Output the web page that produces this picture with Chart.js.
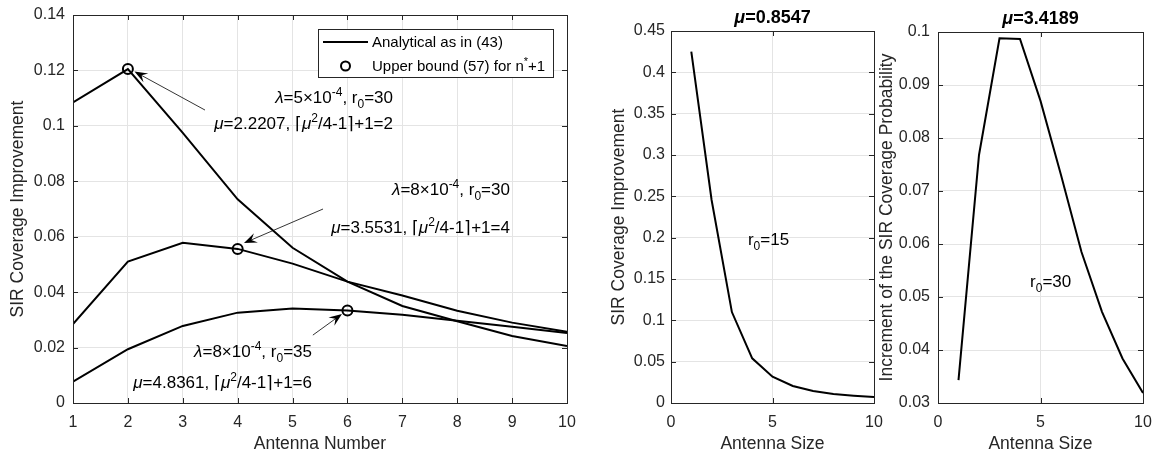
<!doctype html>
<html lang="en">
<head>
<meta charset="utf-8">
<title>SIR coverage improvement</title>
<script src="https://cdn.jsdelivr.net/npm/chart.js@4.4.1/dist/chart.umd.min.js"></script>
<style>
  body { margin: 0; background: #fff; width: 1153px; height: 453px; position: relative; overflow: hidden; }
  canvas { position: absolute; top: 0; }
</style>
</head>
<body>
<canvas id="left" width="590" height="453" style="left:0"></canvas>
<canvas id="mid" width="285" height="453" style="left:600px"></canvas>
<canvas id="right" width="283" height="453" style="left:870px"></canvas>
<script>
// ---- data ----
const antennaNumber = [1, 2, 3, 4, 5, 6, 7, 8, 9, 10];
const lam5r30 = [0.1085, 0.1205, 0.0975, 0.0735, 0.0560, 0.0438, 0.0350, 0.0295, 0.0242, 0.0206];
const lam8r30 = [0.0285, 0.0510, 0.0578, 0.0556, 0.0503, 0.0438, 0.0388, 0.0333, 0.0290, 0.0257];
const lam8r35 = [0.0077, 0.0194, 0.0278, 0.0326, 0.0341, 0.0334, 0.0318, 0.0297, 0.0275, 0.0253];
const boundX = [2, 4, 6];
const boundY = [0.1205, 0.0556, 0.0334];

const antennaSize = [1, 2, 3, 4, 5, 6, 7, 8, 9, 10];
const improveR15 = [0.425, 0.2456, 0.110, 0.054, 0.0318, 0.0206, 0.0145, 0.0110, 0.0089, 0.0073];
const incrementR30 = [0.0343, 0.0768, 0.0988, 0.0987, 0.0870, 0.0730, 0.0585, 0.0472, 0.0384, 0.0319];

const leftTexts = [
  { x: 6.83, y: 0.1082, s: '`λ`=5×10^{-4}, r_{0}=30' },
  { x: 6.83, y: 0.0990, s: '`μ`=2.2207, ⌈`μ`^{2}/4-1⌉+1=2' },
  { x: 8.96, y: 0.0750, s: '`λ`=8×10^{-4}, r_{0}=30' },
  { x: 8.96, y: 0.0612, s: '`μ`=3.5531, ⌈`μ`^{2}/4-1⌉+1=4' },
  { x: 5.354, y: 0.0167, s: '`λ`=8×10^{-4}, r_{0}=35' },
  { x: 5.354, y: 0.0054, s: '`μ`=4.8361, ⌈`μ`^{2}/4-1⌉+1=6' },
];
const leftArrows = [
  { from: [3.405, 0.1057], to: [2.12, 0.1196] },
  { from: [5.555, 0.0700], to: [4.115, 0.0577] },
  { from: [5.37, 0.0245], to: [5.90, 0.0321] },
];

const FONT = '"Liberation Sans", Arial, Helvetica, sans-serif';
const INK = '#262626';
const GRID = '#e4e4e4';

function parseRich(str) {
  const out = [];
  const re = /\^\{([^}]*)\}|_\{([^}]*)\}|`([^`]*)`|([^^_`]+)/g;
  let m;
  while ((m = re.exec(str))) {
    if (m[1] !== undefined) out.push({ t: m[1], sup: true });
    else if (m[2] !== undefined) out.push({ t: m[2], sub: true });
    else if (m[3] !== undefined) out.push({ t: m[3], it: true });
    else out.push({ t: m[4] });
  }
  return out;
}

function drawRich(ctx, str, x, y, align, size, bold) {
  const segs = parseRich(str);
  const fontFor = (s) => (s.it ? 'italic ' : '') + (bold ? 'bold ' : '') +
    Math.round((s.sup || s.sub) ? size * 0.72 : size) + 'px ' + FONT;
  let w = 0;
  for (const s of segs) { ctx.font = fontFor(s); w += ctx.measureText(s.t).width; }
  let cx = align === 'right' ? x - w : align === 'center' ? x - w / 2 : x;
  ctx.textBaseline = 'alphabetic';
  ctx.textAlign = 'left';
  for (const s of segs) {
    ctx.font = fontFor(s);
    const dy = s.sup ? -size * 0.42 : s.sub ? size * 0.32 : 0;
    ctx.fillText(s.t, cx, y + dy);
    cx += ctx.measureText(s.t).width;
  }
}

function arrow(ctx, x1, y1, x2, y2) {
  const ang = Math.atan2(y2 - y1, x2 - x1);
  ctx.beginPath();
  ctx.moveTo(x1, y1);
  ctx.lineTo(x2 - Math.cos(ang) * 6, y2 - Math.sin(ang) * 6);
  ctx.stroke();
  const L = 13, W = 5;
  const bx = x2 - Math.cos(ang) * L, by = y2 - Math.sin(ang) * L;
  const nx = -Math.sin(ang), ny = Math.cos(ang);
  ctx.beginPath();
  ctx.moveTo(x2, y2);
  ctx.lineTo(bx + nx * W, by + ny * W);
  ctx.lineTo(x2 - Math.cos(ang) * 8, y2 - Math.sin(ang) * 8);
  ctx.lineTo(bx - nx * W, by - ny * W);
  ctx.closePath();
  ctx.fill();
}

// box, inward ticks, annotations, legend, title
const decor = {
  id: 'decor',
  afterDraw(chart) {
    const { ctx, chartArea: a, scales } = chart;
    const o = chart.options.plugins.decor || {};
    ctx.save();
    ctx.strokeStyle = INK;
    ctx.fillStyle = INK;
    ctx.lineWidth = 1;
    ctx.strokeRect(Math.round(a.left) + 0.5, Math.round(a.top) + 0.5,
      Math.round(a.right - a.left), Math.round(a.bottom - a.top));
    const tl = 5;
    ctx.beginPath();
    for (const t of scales.x.ticks) {
      const px = Math.round(scales.x.getPixelForValue(t.value)) + 0.5;
      ctx.moveTo(px, a.bottom); ctx.lineTo(px, a.bottom - tl);
      ctx.moveTo(px, a.top); ctx.lineTo(px, a.top + tl);
    }
    for (const t of scales.y.ticks) {
      const py = Math.round(scales.y.getPixelForValue(t.value)) + 0.5;
      ctx.moveTo(a.left, py); ctx.lineTo(a.left + tl, py);
      ctx.moveTo(a.right, py); ctx.lineTo(a.right - tl, py);
    }
    ctx.stroke();

    ctx.fillStyle = '#000';
    ctx.strokeStyle = '#000';
    for (const t of (o.texts || [])) {
      drawRich(ctx, t.s, scales.x.getPixelForValue(t.x), scales.y.getPixelForValue(t.y),
        t.align || 'right', 16.5);
    }
    ctx.lineWidth = 0.8;
    for (const ar of (o.arrows || [])) {
      arrow(ctx, scales.x.getPixelForValue(ar.from[0]), scales.y.getPixelForValue(ar.from[1]),
        scales.x.getPixelForValue(ar.to[0]), scales.y.getPixelForValue(ar.to[1]));
    }
    if (o.title) {
      ctx.fillStyle = '#000';
      drawRich(ctx, o.title, (a.left + a.right) / 2, a.top - 8, 'center', 17.5, true);
    }
    if (o.legend) {
      const w = 235, h = 48;
      const lx = a.right - 14 - w, ly = a.top + 14;
      ctx.fillStyle = '#fff';
      ctx.fillRect(lx, ly, w, h);
      ctx.strokeStyle = INK;
      ctx.lineWidth = 1;
      ctx.strokeRect(lx + 0.5, ly + 0.5, w, h);
      ctx.strokeStyle = '#000';
      ctx.lineWidth = 2;
      ctx.beginPath();
      ctx.moveTo(lx + 5, ly + 13); ctx.lineTo(lx + 50, ly + 13);
      ctx.stroke();
      ctx.lineWidth = 2;
      ctx.beginPath();
      ctx.arc(lx + 27.5, ly + 37, 4.5, 0, Math.PI * 2);
      ctx.stroke();
      ctx.fillStyle = '#000';
      drawRich(ctx, 'Analytical as in (43)', lx + 54, ly + 18, 'left', 15);
      drawRich(ctx, 'Upper bound (57) for n^{*}+1', lx + 54, ly + 42, 'left', 15);
    }
    ctx.restore();
  },
};

function fmt(v) { return String(parseFloat(Number(v).toFixed(4))); }

function axes(x, y, dims) {
  return {
    x: {
      type: 'linear', min: x.min, max: x.max,
      ticks: { stepSize: x.step, color: INK, font: { family: FONT, size: 16 }, padding: 10, callback: fmt, maxRotation: 0 },
      grid: { color: GRID, drawTicks: false },
      border: { color: INK },
      title: { display: true, text: x.title, color: INK, font: { family: FONT, size: 17.5, lineHeight: 1 }, padding: { top: 0, bottom: 0 } },
      afterFit(s) { s.height = dims.xh; s.paddingLeft = 0; s.paddingRight = 0; },
    },
    y: {
      type: 'linear', min: y.min, max: y.max,
      ticks: { stepSize: y.step, color: INK, font: { family: FONT, size: 16 }, padding: dims.ypad, callback: fmt },
      grid: { color: GRID, drawTicks: false },
      border: { color: INK },
      title: { display: true, text: y.title, color: INK, font: { family: FONT, size: 17.5, lineHeight: 1.2 }, padding: { top: dims.tpad, bottom: 0 } },
      afterFit(s) { s.width = dims.yw; s.paddingTop = 0; s.paddingBottom = 0; },
    },
  };
}

function line(xs, ys) {
  return {
    type: 'line',
    data: xs.map((x, i) => ({ x, y: ys[i] })),
    borderColor: '#000', borderWidth: 2, pointRadius: 0, tension: 0, fill: false,
  };
}

const common = {
  responsive: false,
  animation: false,
  events: [],
};

new Chart(document.getElementById('left'), {
  type: 'line',
  data: {
    datasets: [
      line(antennaNumber, lam5r30),
      line(antennaNumber, lam8r30),
      line(antennaNumber, lam8r35),
      {
        type: 'scatter',
        data: boundX.map((x, i) => ({ x, y: boundY[i] })),
        pointRadius: 5, pointStyle: 'circle', borderColor: '#000', borderWidth: 2,
        backgroundColor: 'rgba(0,0,0,0)',
      },
    ],
  },
  options: {
    ...common,
    layout: { padding: { top: 15, right: 23, left: 0, bottom: 0 } },
    plugins: {
      legend: { display: false }, tooltip: { enabled: false },
      decor: { texts: leftTexts, arrows: leftArrows, legend: true },
    },
    scales: axes(
      { min: 1, max: 10, step: 1, title: 'Antenna Number' },
      { min: 0, max: 0.14, step: 0.02, title: 'SIR Coverage Improvement' },
      { xh: 50, yw: 73, ypad: 8, tpad: 8 }),
  },
  plugins: [decor],
});

new Chart(document.getElementById('mid'), {
  type: 'line',
  data: { datasets: [line(antennaSize, improveR15)] },
  options: {
    ...common,
    layout: { padding: { top: 31, right: 11, left: 0, bottom: 0 } },
    plugins: {
      legend: { display: false }, tooltip: { enabled: false },
      decor: { title: '`μ`=0.8547', texts: [{ x: 3.79, y: 0.191, s: 'r_{0}=15', align: 'left' }] },
    },
    scales: axes(
      { min: 0, max: 10, step: 5, title: 'Antenna Size' },
      { min: 0, max: 0.45, step: 0.05, title: 'SIR Coverage Improvement' },
      { xh: 50, yw: 71, ypad: 6, tpad: 9 }),
  },
  plugins: [decor],
});

new Chart(document.getElementById('right'), {
  type: 'line',
  data: { datasets: [line(antennaSize, incrementR30)] },
  options: {
    ...common,
    layout: { padding: { top: 32, right: 10, left: 0, bottom: 0 } },
    plugins: {
      legend: { display: false }, tooltip: { enabled: false },
      decor: { title: '`μ`=3.4189', texts: [{ x: 4.49, y: 0.0519, s: 'r_{0}=30', align: 'left' }] },
    },
    scales: axes(
      { min: 0, max: 10, step: 5, title: 'Antenna Size' },
      { min: 0.03, max: 0.1, step: 0.01, title: 'Increment of the SIR Coverage Probability' },
      { xh: 50, yw: 68, ypad: 8, tpad: 7 }),
  },
  plugins: [decor],
});
</script>
</body>
</html>
